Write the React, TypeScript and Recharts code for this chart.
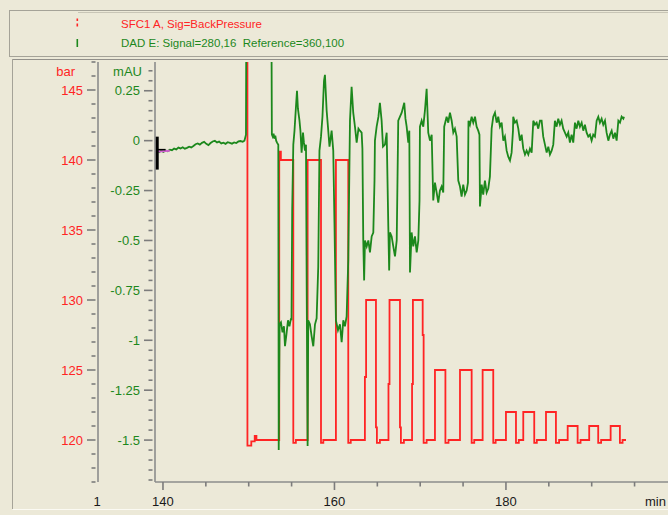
import React from "react";
import { LineChart, Line, XAxis, YAxis } from "recharts";

const RED = "#ff2424";
const GREEN = "#1c881c";
const AXIS = "#8c8c8c";
const TICK = "#7c7c7c";
const BG = "#ece9d8";
const FONT = "'Liberation Sans', Arial, sans-serif";

// SFC1 A, Sig=BackPressure  [min, bar]  (drawn as steps)
const backPressure: [number, number][] = [
  [149.7, 150], [149.85, 119.6], [150.3, 119.9], [150.7, 120.3], [150.9, 120.0],
  [153.56, 140.6], [153.75, 140.0], [155.2, 119.8], [155.5, 120.0],
  [156.87, 140.0], [158.43, 119.8], [158.7, 120.0],
  [160.17, 140.0], [161.61, 119.8], [161.9, 120.0],
  [163.55, 124.5], [163.69, 130.0], [164.84, 120.9], [164.95, 119.8], [165.3, 120.0],
  [166.3, 124.0], [166.42, 130.0], [167.64, 120.9], [167.75, 119.8], [168.1, 120.0],
  [169.05, 124.0], [169.15, 130.0], [170.29, 127.5], [170.4, 119.8], [170.75, 120.0],
  [171.72, 125.0], [172.94, 119.8], [173.3, 120.0],
  [174.64, 125.0], [176.0, 119.8], [176.3, 120.0],
  [177.28, 125.0], [178.52, 119.8], [178.8, 120.0],
  [180.0, 122.0], [181.17, 119.8], [181.5, 120.0],
  [182.02, 122.0], [183.3, 119.8], [183.6, 120.0],
  [184.67, 122.0], [185.83, 119.8], [186.2, 120.0],
  [187.2, 121.0], [188.36, 119.8], [188.7, 120.0],
  [189.71, 121.0], [190.76, 119.8], [191.1, 120.0],
  [192.21, 121.0], [193.29, 119.8], [193.6, 120.0], [194.0, 120.0],
];

// DAD E: Signal=280,16 Reference=360,100  [min, mAU]
const dadSignal: [number, number][] = [
  [139.3, -0.052], [139.55, -0.058], [139.8, -0.05], [140.05, -0.056], [140.3, -0.049],
  [140.55, -0.053], [140.8, -0.045], [141.05, -0.048], [141.3, -0.04], [141.55, -0.044],
  [141.8, -0.035], [142.05, -0.039], [142.3, -0.033], [142.55, -0.04], [142.8, -0.036],
  [143.05, -0.03], [143.3, -0.034], [143.55, -0.027], [143.8, -0.018], [144.05, -0.014],
  [144.3, -0.02], [144.55, -0.011], [144.8, -0.006], [145.05, -0.016], [145.3, -0.022],
  [145.55, -0.012], [145.8, -0.004], [146.05, -0.001], [146.3, -0.009], [146.55, -0.005],
  [146.8, -0.014], [147.05, -0.01], [147.3, -0.016], [147.55, -0.008], [147.8, -0.011],
  [148.05, -0.015], [148.3, -0.009], [148.55, -0.012], [148.8, -0.004], [149.05, -0.002],
  [149.3, -0.006], [149.5, 0.0], [149.68, 0.03], [149.72, 0.6],
  [152.65, 0.6], [152.7, 0.03], [152.8, 0.02], [152.9, 0.035], [153.0, 0.01],
  [153.1, 0.025], [153.2, 0.0], [153.3, -0.01], [153.45, -0.02], [153.5, -1.55],
  [153.6, -0.92], [153.76, -0.91], [153.94, -0.96], [154.11, -0.93], [154.23, -1.03],
  [154.4, -0.97], [154.58, -0.9], [154.75, -0.93], [154.93, -0.89], [154.99, -0.9],
  [155.07, -0.35], [155.2, -0.02], [155.34, 0.05], [155.51, 0.17], [155.63, 0.25],
  [155.74, 0.16], [155.92, 0.1], [156.03, 0.05], [156.17, -0.06], [156.33, 0.04],
  [156.44, -0.01], [156.56, -0.05], [156.68, -0.02], [156.76, -0.73], [156.87, -1.53],
  [156.94, -0.9], [157.14, -0.92], [157.34, -0.98], [157.53, -1.03], [157.73, -0.92],
  [157.92, -0.89], [158.11, -0.63], [158.25, -0.05], [158.43, 0.02], [158.6, 0.12],
  [158.78, 0.3], [158.89, 0.33], [159.09, 0.15], [159.24, 0.07], [159.42, -0.03],
  [159.67, 0.05], [159.86, -0.05], [160.0, -0.41], [160.17, -0.9], [160.41, -0.95],
  [160.64, -0.92], [160.84, -1.01], [161.03, -0.9], [161.22, -0.93], [161.42, -0.88],
  [161.61, -0.6], [161.81, 0.1], [162.0, 0.27], [162.19, 0.14], [162.39, 0.07],
  [162.59, -0.01], [162.8, 0.06], [162.97, 0.05], [163.17, 0.04], [163.26, -0.04],
  [163.36, -0.5], [163.46, -0.7], [163.56, -0.5], [163.76, -0.53], [163.95, -0.5],
  [164.14, -0.56], [164.34, -0.48], [164.53, -0.46], [164.67, -0.2], [164.72, 0.0],
  [164.92, 0.07], [165.13, 0.12], [165.3, 0.19], [165.5, 0.1], [165.66, -0.03],
  [165.89, -0.02], [166.09, 0.04], [166.28, -0.43], [166.38, -0.65], [166.47, -0.46],
  [166.67, -0.48], [166.86, -0.53], [167.06, -0.58], [167.26, -0.5], [167.44, 0.1],
  [167.64, 0.12], [167.84, 0.14], [168.14, 0.19], [168.28, 0.11], [168.42, 0.07],
  [168.61, -0.01], [168.73, 0.05], [168.81, -0.66], [169.0, -0.46], [169.19, -0.53],
  [169.39, -0.48], [169.59, -0.56], [169.78, -0.5], [169.92, -0.3], [169.97, 0.07],
  [170.17, 0.1], [170.36, 0.07], [170.55, 0.15], [170.75, 0.26], [170.94, 0.04],
  [171.14, 0.0], [171.34, 0.03], [171.52, -0.3], [171.72, -0.21], [171.92, -0.26],
  [172.11, -0.31], [172.3, -0.25], [172.5, -0.23], [172.69, -0.26], [172.8, 0.07],
  [173.08, 0.12], [173.27, 0.09], [173.47, 0.14], [173.67, 0.1], [173.86, 0.04],
  [174.05, 0.06], [174.25, 0.02], [174.44, -0.2], [174.64, -0.23], [174.83, -0.28],
  [175.02, -0.22], [175.22, -0.27], [175.42, -0.25], [175.57, -0.21], [175.63, 0.1],
  [175.8, 0.08], [176.0, 0.12], [176.19, 0.09], [176.39, 0.12], [176.58, 0.07],
  [176.77, 0.05], [176.91, 0.03], [176.97, -0.33], [177.17, -0.22], [177.35, -0.27],
  [177.55, -0.2], [177.75, -0.26], [177.94, -0.24], [178.13, -0.18], [178.33, 0.06],
  [178.52, 0.12], [178.72, 0.14], [178.92, 0.09], [179.1, 0.12], [179.3, 0.07],
  [179.5, 0.09], [179.69, 0.0], [179.88, 0.02], [180.08, -0.05], [180.27, -0.08],
  [180.47, -0.1], [180.66, -0.06], [180.82, 0.05], [180.85, 0.12], [181.05, 0.09],
  [181.25, 0.1], [181.44, 0.06], [181.63, 0.0], [181.83, 0.03], [182.02, -0.04],
  [182.22, -0.07], [182.41, -0.05], [182.61, -0.07], [182.8, -0.04], [183.0, -0.06],
  [183.19, 0.1], [183.38, 0.08], [183.58, 0.09], [183.77, 0.06], [183.97, 0.1],
  [184.16, 0.1], [184.35, 0.02], [184.55, -0.02], [184.75, -0.06], [184.94, -0.03],
  [185.13, -0.07], [185.33, -0.05], [185.52, -0.02], [185.71, 0.1], [185.91, 0.07],
  [186.1, 0.11], [186.3, 0.08], [186.49, 0.1], [186.68, 0.06], [186.88, 0.04],
  [187.08, 0.02], [187.27, 0.04], [187.46, -0.01], [187.66, 0.03], [187.85, -0.01],
  [188.05, 0.09], [188.24, 0.06], [188.44, 0.1], [188.63, 0.07], [188.83, 0.09],
  [189.02, 0.05], [189.21, 0.08], [189.41, 0.04], [189.6, 0.02], [189.8, 0.03],
  [189.99, 0.0], [190.18, 0.03], [190.38, 0.02], [190.58, 0.1], [190.77, 0.12],
  [190.96, 0.09], [191.16, 0.11], [191.35, 0.08], [191.55, 0.1], [191.74, 0.04],
  [191.94, 0.0], [192.13, 0.03], [192.33, 0.05], [192.52, 0.01], [192.72, 0.04],
  [192.91, 0.0], [193.11, 0.1], [193.3, 0.09], [193.49, 0.12], [193.69, 0.11],
  [193.77, 0.12],
];

// injection marker at the start of the run
const injectBar: [number, number][] = [[139.3, 0.02], [139.3, -0.145]];
const injectTick: [number, number][] = [[139.3, -0.045], [140.3, -0.045]];
const injectPink: [number, number][] = [[139.1, -0.056], [140.8, -0.05]];

const barTicks = [120, 125, 130, 135, 140, 145];
const mauTicks = [-1.5, -1.25, -1, -0.75, -0.5, -0.25, 0, 0.25];
const minTicks = [140, 160, 180];

// minor tick positions
const barMinor = Array.from({ length: 31 }, (_, i) => 117 + i);
const mauMinor = Array.from({ length: 42 }, (_, i) => Math.round((-1.7 + i * 0.05) * 100) / 100);
const minMinor = Array.from({ length: 12 }, (_, i) => 140 + i * 5);

const rows = (pts: [number, number][]) => pts.map(([t, v]) => ({ t, v }));

const yTick = (color: string, majors: number[]) => (props: any) => {
  const { x, y, payload } = props;
  const major = majors.some((m) => Math.abs(m - payload.value) < 1e-6);
  return (
    <g>
      <line x1={x - (major ? 11 : 6.5)} x2={x - 2.5} y1={y} y2={y} stroke={TICK} strokeWidth={1.6} />
      {major && (
        <text x={x - 15} y={y} dy={4.6} textAnchor="end" fill={color} fontSize={13} fontFamily={FONT}>
          {String(payload.value)}
        </text>
      )}
    </g>
  );
};

const xTick = (props: any) => {
  const { x, y, payload } = props;
  const major = minTicks.includes(payload.value);
  return (
    <g>
      <line x1={x} x2={x} y1={y} y2={y + (major ? 8 : 4.5)} stroke={TICK} strokeWidth={1.6} />
      {major && (
        <text x={x} y={y + 24} textAnchor="middle" fill="#1a1a1a" fontSize={13} fontFamily={FONT}>
          {payload.value}
        </text>
      )}
    </g>
  );
};

export default function App() {
  return (
    <div style={{ position: "absolute", left: 0, top: 0, width: 668, height: 515, background: BG, overflow: "hidden" }}>
      <LineChart width={668} height={515} margin={{ top: 62, right: 0, bottom: 0, left: 0 }}>
        <XAxis
          dataKey="t"
          type="number"
          domain={[139.07, 198.9]}
          allowDataOverflow
          ticks={minMinor}
          interval={0}
          height={33}
          tickSize={0}
          tickMargin={0}
          tick={xTick}
          axisLine={{ stroke: AXIS, strokeWidth: 1.6 }}
        />
        <YAxis
          yAxisId="a_mau"
          orientation="left"
          width={57}
          type="number"
          domain={[-1.71, 0.394]}
          allowDataOverflow
          ticks={mauMinor}
          interval={0}
          tickSize={0}
          tickMargin={0}
          tick={yTick(GREEN, mauTicks)}
          axisLine={{ stroke: AXIS, strokeWidth: 1.6 }}
        />
        <YAxis
          yAxisId="b_bar"
          orientation="left"
          width={98}
          type="number"
          domain={[117, 147]}
          allowDataOverflow
          ticks={barMinor}
          interval={0}
          tickSize={0}
          tickMargin={0}
          tick={yTick(RED, barTicks)}
          axisLine={{ stroke: AXIS, strokeWidth: 1.6 }}
        />
        <Line
          yAxisId="b_bar"
          data={rows(backPressure)}
          dataKey="v"
          type="stepAfter"
          stroke={RED}
          strokeWidth={1.8}
          dot={false}
          isAnimationActive={false}
        />
        <Line
          yAxisId="a_mau"
          data={rows(dadSignal)}
          dataKey="v"
          type="linear"
          stroke={GREEN}
          strokeWidth={1.8}
          dot={false}
          isAnimationActive={false}
        />
        <Line yAxisId="a_mau" data={rows(injectPink)} dataKey="v" stroke="#d060d0" strokeWidth={2} dot={false} isAnimationActive={false} />
        <Line yAxisId="a_mau" data={rows(injectTick)} dataKey="v" stroke="#000" strokeWidth={1.5} dot={false} isAnimationActive={false} />
        <Line yAxisId="a_mau" data={rows(injectBar)} dataKey="v" stroke="#000" strokeWidth={3.5} dot={false} isAnimationActive={false} />
      </LineChart>
      <svg width={668} height={515} style={{ position: "absolute", left: 0, top: 0, pointerEvents: "none" }}>
        <line x1={9.5} y1={10.5} x2={668} y2={10.5} stroke="#a5a398" />
        <line x1={78} y1={12.5} x2={668} y2={12.5} stroke="#c8c5b6" />
        <line x1={9.5} y1={10} x2={9.5} y2={57} stroke="#a5a398" />
        <line x1={9.5} y1={56.5} x2={668} y2={56.5} stroke="#a5a398" />
        <line x1={12.5} y1={59.5} x2={668} y2={59.5} stroke="#92908a" />
        <line x1={12.5} y1={59} x2={12.5} y2={509} stroke="#a5a398" />
        <line x1={12.5} y1={509.5} x2={668} y2={509.5} stroke="#fbfaf3" />
        <rect x={76.5} y={18.5} width={1.6} height={2.5} fill={RED} />
        <rect x={76.5} y={23.5} width={1.6} height={3} fill={RED} />
        <rect x={76.5} y={39} width={1.6} height={8} fill={GREEN} />
        <text x={121} y={28} fill={RED} fontSize={11.5} fontFamily={FONT}>SFC1 A, Sig=BackPressure</text>
        <text x={121} y={46.5} fill={GREEN} fontSize={11.5} fontFamily={FONT} style={{ whiteSpace: "pre" }}>
          DAD E: Signal=280,16  Reference=360,100
        </text>
        <text x={75} y={76} textAnchor="end" fill={RED} fontSize={13} fontFamily={FONT}>bar</text>
        <text x={142} y={76} textAnchor="end" fill={GREEN} fontSize={13} fontFamily={FONT}>mAU</text>
        <text x={97} y={506} textAnchor="middle" fill="#1a1a1a" fontSize={13} fontFamily={FONT}>1</text>
        <text x={645} y={506} fill="#1a1a1a" fontSize={13} fontFamily={FONT}>min</text>
      </svg>
    </div>
  );
}
